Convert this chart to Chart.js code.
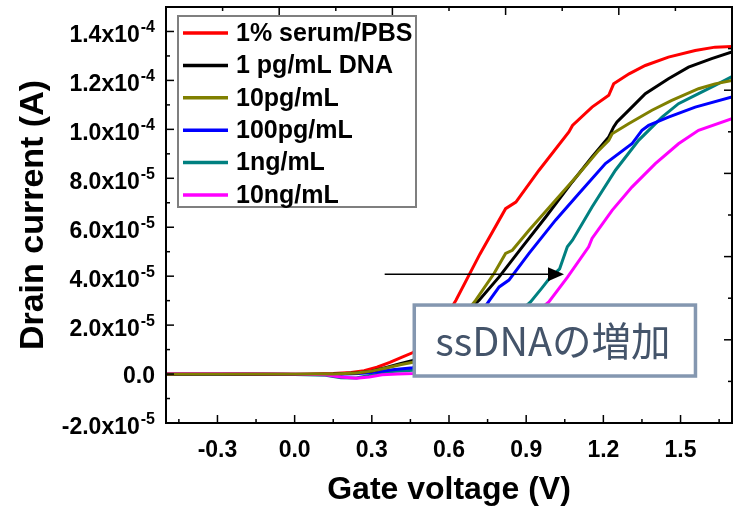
<!DOCTYPE html>
<html>
<head>
<meta charset="utf-8">
<title>Drain current vs gate voltage</title>
<script src="https://cdn.jsdelivr.net/npm/chart.js@4.4.1/dist/chart.umd.min.js"></script>
<style>
  html, body { margin: 0; padding: 0; background: #fff; }
</style>
</head>
<body>
<canvas id="myChart" width="734" height="512"></canvas>
<script>
// corrientes en unidades de 10^-5 A
const serieNombres = ["1% serum/PBS", "1 pg/mL DNA", "10pg/mL", "100pg/mL", "1ng/mL", "10ng/mL"];
const serieColores = ["#ff0000", "#000000", "#808000", "#0000ff", "#008080", "#ff00ff"];
const ordenDibujo = [3, 2, 0, 4, 5, 1];

const serumV = [-0.5, -0.3, 0.0, 0.15, 0.22, 0.27, 0.32, 0.37, 0.42, 0.46, 0.51, 0.56, 0.60, 0.627, 0.72, 0.82, 0.86, 0.95, 1.066, 1.08, 1.156, 1.221, 1.24, 1.30, 1.363, 1.453, 1.557, 1.634, 1.70];
const serumI = [0, 0.01, -0.02, 0.02, 0.06, 0.14, 0.28, 0.48, 0.70, 0.88, 1.35, 1.95, 2.55, 3.02, 4.9, 6.76, 7.03, 8.33, 9.89, 10.16, 10.91, 11.39, 11.86, 12.27, 12.61, 12.95, 13.22, 13.36, 13.39];

const pg1V = [-0.5, -0.3, 0.0, 0.15, 0.24, 0.30, 0.36, 0.41, 0.46, 0.52, 0.58, 0.64, 0.69, 0.717, 0.795, 0.885, 0.976, 1.079, 1.156, 1.221, 1.240, 1.253, 1.311, 1.363, 1.453, 1.531, 1.621, 1.70];
const pg1I = [0, 0, -0.02, 0, 0.04, 0.12, 0.28, 0.42, 0.56, 0.9, 1.45, 2.1, 2.75, 3.02, 3.97, 5.2, 6.42, 7.85, 8.87, 9.69, 10.1, 10.3, 10.91, 11.46, 12.07, 12.54, 12.89, 13.16];

const pg10V = [-0.5, -0.3, 0.0, 0.15, 0.24, 0.30, 0.36, 0.41, 0.46, 0.52, 0.58, 0.63, 0.68, 0.704, 0.775, 0.82, 0.846, 0.911, 1.014, 1.105, 1.182, 1.221, 1.234, 1.298, 1.389, 1.466, 1.57, 1.634, 1.70];
const pg10I = [0, 0, 0, 0, 0.04, 0.12, 0.26, 0.38, 0.48, 0.85, 1.4, 2.05, 2.7, 3.02, 4.11, 4.93, 5.06, 5.88, 7.1, 8.19, 9.14, 9.55, 9.82, 10.23, 10.78, 11.18, 11.66, 11.86, 12.0];

const pg100V = [-0.5, -0.3, 0.0, 0.15, 0.25, 0.32, 0.38, 0.46, 0.52, 0.58, 0.64, 0.69, 0.73, 0.76, 0.795, 0.833, 0.911, 1.014, 1.105, 1.208, 1.311, 1.35, 1.376, 1.453, 1.557, 1.70];
const pg100I = [0, 0, -0.02, -0.02, 0.02, 0.08, 0.18, 0.26, 0.55, 1.0, 1.6, 2.15, 2.6, 3.05, 3.56, 3.84, 4.93, 6.29, 7.38, 8.6, 9.41, 9.96, 10.16, 10.5, 10.91, 11.32];

const ng1V = [-0.5, -0.3, 0.0, 0.12, 0.18, 0.24, 0.28, 0.33, 0.38, 0.46, 0.54, 0.62, 0.70, 0.77, 0.83, 0.88, 0.917, 0.96, 0.99, 1.03, 1.045, 1.06, 1.08, 1.156, 1.247, 1.337, 1.428, 1.492, 1.57, 1.634, 1.70];
const ng1I = [0, 0, -0.02, -0.05, -0.15, -0.16, -0.08, 0.0, 0.1, 0.16, 0.35, 0.7, 1.15, 1.65, 2.15, 2.6, 2.95, 3.5, 3.9, 4.3, 4.75, 5.2, 5.47, 6.83, 8.33, 9.55, 10.5, 11.05, 11.46, 11.8, 12.16];

const ng10V = [-0.5, -0.3, 0.0, 0.12, 0.18, 0.24, 0.29, 0.34, 0.40, 0.46, 0.55, 0.63, 0.71, 0.78, 0.85, 0.91, 0.96, 0.988, 1.06, 1.143, 1.156, 1.234, 1.311, 1.402, 1.492, 1.57, 1.70];
const ng10I = [0.02, 0.02, 0, -0.03, -0.12, -0.17, -0.12, -0.03, 0.0, 0.02, 0.15, 0.4, 0.8, 1.25, 1.75, 2.25, 2.7, 2.95, 3.95, 5.2, 5.54, 6.69, 7.64, 8.6, 9.41, 9.96, 10.44];

const voltajes = [serumV, pg1V, pg10V, pg100V, ng1V, ng10V];
const corrientes = [serumI, pg1I, pg10I, pg100I, ng1I, ng10I];

const xTicks = [-0.3, 0.0, 0.3, 0.6, 0.9, 1.2, 1.5];
const xTickTextos = ["-0.3", "0.0", "0.3", "0.6", "0.9", "1.2", "1.5"];
const xMenores = [-0.45, -0.15, 0.15, 0.45, 0.75, 1.05, 1.35, 1.65];

const yTicks = [-2, 0, 2, 4, 6, 8, 10, 12, 14];
const yMantisa = ["-2.0", "0.0", "2.0", "4.0", "6.0", "8.0", "1.0", "1.2", "1.4"];
const yExponente = ["-5", "", "-5", "-5", "-5", "-5", "-4", "-4", "-4"];
const yMenores = [-1, 1, 3, 5, 7, 9, 11, 13];

// recuadro y flecha, en unidades de datos
const notaTexto = "ssDNAの増加";
const notaCaja = { vIni: 0.465, vFin: 1.558, iArriba: 2.82, iAbajo: -0.08 };
const flecha = { vIni: 0.35, vFin: 1.047, i: 4.08 };

const fuenteEjes = '"Liberation Sans", Arial, sans-serif';

const datasets = serieNombres.map((nombre, i) => ({
  label: nombre,
  data: voltajes[i].map((v, j) => ({ x: v, y: corrientes[i][j] })),
  borderColor: serieColores[i],
  backgroundColor: serieColores[i],
  borderWidth: 3,
  pointRadius: 0,
  tension: 0,
  fill: false,
  order: ordenDibujo[i],
}));

const extras = {
  id: "extras",
  afterDatasetsDraw(chart) {
    const { ctx, chartArea: a, scales: { x, y } } = chart;
    ctx.save();

    // recuadro ssDNA
    const bx1 = x.getPixelForValue(notaCaja.vIni);
    const bx2 = x.getPixelForValue(notaCaja.vFin);
    const by1 = y.getPixelForValue(notaCaja.iArriba);
    const by2 = y.getPixelForValue(notaCaja.iAbajo);
    ctx.fillStyle = "#ffffff";
    ctx.fillRect(bx1, by1, bx2 - bx1, by2 - by1);
    ctx.strokeStyle = "#8497b0";
    ctx.lineWidth = 3.5;
    ctx.strokeRect(bx1, by1, bx2 - bx1, by2 - by1);
    ctx.fillStyle = "#44546a";
    ctx.font = '39.5px "Noto Sans CJK JP", sans-serif';
    ctx.textAlign = "center";
    ctx.textBaseline = "middle";
    ctx.fillText(notaTexto, (bx1 + bx2) / 2 - 2, (by1 + by2) / 2);

    // flecha
    const ax1 = x.getPixelForValue(flecha.vIni);
    const ax2 = x.getPixelForValue(flecha.vFin);
    const ay = y.getPixelForValue(flecha.i);
    ctx.strokeStyle = "#000";
    ctx.fillStyle = "#000";
    ctx.lineWidth = 1.5;
    ctx.beginPath();
    ctx.moveTo(ax1, ay);
    ctx.lineTo(ax2 - 10, ay);
    ctx.stroke();
    ctx.beginPath();
    ctx.moveTo(ax2, ay);
    ctx.lineTo(ax2 - 16, ay - 7);
    ctx.lineTo(ax2 - 16, ay + 7);
    ctx.closePath();
    ctx.fill();

    // leyenda
    const lx = a.left + 12, ly = a.top + 9, lw = 238, lh = 191;
    ctx.fillStyle = "#ffffff";
    ctx.fillRect(lx, ly, lw, lh);
    ctx.strokeStyle = "#7f7f7f";
    ctx.lineWidth = 2;
    ctx.strokeRect(lx, ly, lw, lh);
    ctx.font = "bold 25px " + fuenteEjes;
    ctx.textAlign = "left";
    ctx.textBaseline = "middle";
    chart.data.datasets.forEach((ds, i) => {
      const ry = ly + 17 + i * 32.4;
      ctx.strokeStyle = ds.borderColor;
      ctx.lineWidth = 3.5;
      ctx.beginPath();
      ctx.moveTo(lx + 5, ry);
      ctx.lineTo(lx + 50, ry);
      ctx.stroke();
      ctx.fillStyle = "#000";
      ctx.fillText(ds.label, lx + 58, ry + 1);
    });
    ctx.restore();
  },
  afterDraw(chart) {
    const { ctx, chartArea: a, scales: { x, y } } = chart;
    ctx.save();
    ctx.strokeStyle = "#000";
    ctx.lineWidth = 2;
    ctx.strokeRect(a.left, a.top, a.right - a.left, a.bottom - a.top);

    ctx.lineWidth = 1.5;
    const raya = (x1, y1, x2, y2) => {
      ctx.beginPath();
      ctx.moveTo(x1, y1);
      ctx.lineTo(x2, y2);
      ctx.stroke();
    };
    xTicks.forEach((v) => { const px = x.getPixelForValue(v); raya(px, a.bottom, px, a.bottom - 8); });
    xMenores.forEach((v) => { const px = x.getPixelForValue(v); raya(px, a.bottom, px, a.bottom - 4); });
    yTicks.forEach((v) => { const py = y.getPixelForValue(v); raya(a.left, py, a.left + 8, py); });
    yMenores.forEach((v) => { const py = y.getPixelForValue(v); raya(a.left, py, a.left + 4, py); });
    // eje superior y derecho: 10 divisiones
    for (let k = 1; k < 10; k++) {
      const largo = k % 2 === 0 ? 8 : 4;
      const px = a.left + (a.right - a.left) * k / 10;
      raya(px, a.top, px, a.top + largo);
      const py = a.bottom - (a.bottom - a.top) * k / 10;
      raya(a.right, py, a.right - largo, py);
    }

    // etiquetas del eje y con exponente
    ctx.fillStyle = "#000";
    ctx.textAlign = "right";
    ctx.textBaseline = "alphabetic";
    const borde = a.left - 11;
    yTicks.forEach((v, i) => {
      const py = y.getPixelForValue(v);
      if (yExponente[i] === "") {
        ctx.font = "bold 23px " + fuenteEjes;
        ctx.fillText(yMantisa[i], borde, py + 8.5);
        return;
      }
      ctx.font = "bold 16px " + fuenteEjes;
      const ancho = ctx.measureText(yExponente[i]).width;
      ctx.fillText(yExponente[i], borde, py + 1);
      ctx.font = "bold 23px " + fuenteEjes;
      ctx.fillText(yMantisa[i] + "x10", borde - ancho - 1, py + 10.5);
    });
    ctx.restore();
  },
};

const myChart = new Chart(document.querySelector("#myChart").getContext("2d"), {
  type: "line",
  data: { datasets },
  options: {
    responsive: false,
    animation: false,
    layout: { padding: { top: 7, right: 2, left: 0, bottom: 0 } },
    plugins: { legend: { display: false }, tooltip: { enabled: false } },
    scales: {
      x: {
        type: "linear",
        min: -0.5,
        max: 1.7,
        grid: { display: false },
        border: { display: false },
        afterBuildTicks: (s) => { s.ticks = xTicks.map((v) => ({ value: v })); },
        afterFit: (s) => { s.height = 89; },
        ticks: {
          autoSkip: false,
          maxRotation: 0,
          padding: 6,
          color: "#000",
          font: { family: fuenteEjes, size: 23, weight: "bold" },
          callback: (v, i) => xTickTextos[i],
        },
        title: {
          display: true,
          text: "Gate voltage (V)",
          color: "#000",
          font: { family: fuenteEjes, size: 32, weight: "bold" },
          padding: { top: 0, bottom: 3 },
        },
      },
      y: {
        type: "linear",
        min: -2,
        max: 15,
        grid: { display: false },
        border: { display: false },
        ticks: { display: false },
        afterFit: (s) => { s.width = 166; },
        title: {
          display: true,
          text: "Drain current (A)",
          color: "#000",
          font: { family: fuenteEjes, size: 34, weight: "bold" },
          padding: { top: 13, bottom: 0 },
        },
      },
    },
  },
  plugins: [extras],
});
</script>
</body>
</html>
